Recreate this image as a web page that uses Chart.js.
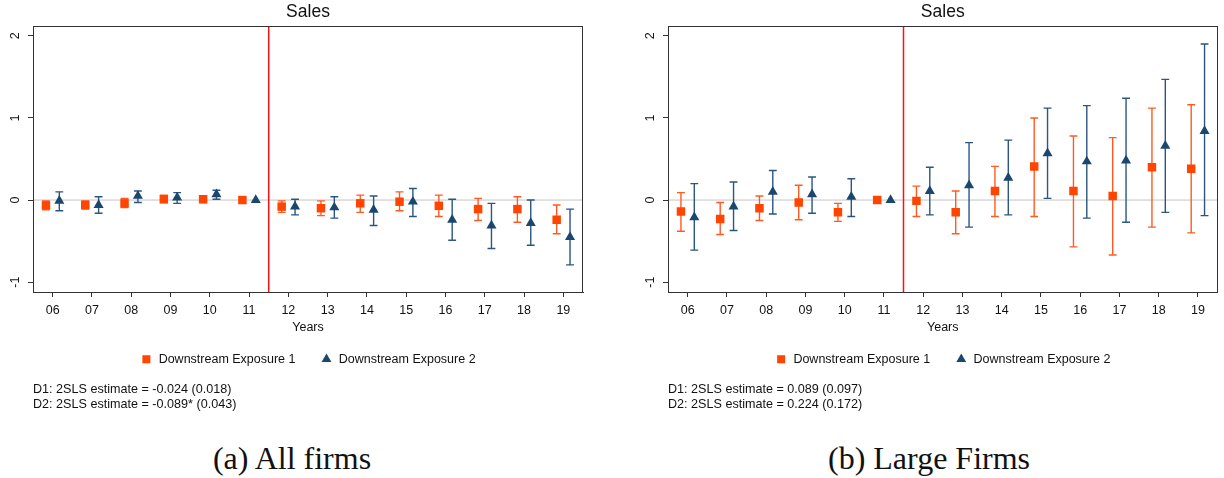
<!DOCTYPE html>
<html>
<head>
<meta charset="utf-8">
<script src="https://cdn.jsdelivr.net/npm/chart.js@4.4.1/dist/chart.umd.min.js"></script>
<style>
  body { margin: 0; width: 1224px; height: 478px; background: #fff; position: relative; overflow: hidden; }
  canvas { position: absolute; top: 0; }
  #chartA { left: 0; }
  #chartB { left: 612px; }
  .caption { position: absolute; top: 442px; transform: translateX(-50%); white-space: nowrap;
             font-family: "Liberation Serif", "Times New Roman", serif; font-size: 32px; line-height: 32px; color: #111; }
</style>
</head>
<body>
<canvas id="chartA" width="612" height="420"></canvas>
<canvas id="chartB" width="612" height="420"></canvas>
<div class="caption" style="left:292px">(a) All firms</div>
<div class="caption" style="left:929px">(b) Large Firms</div>

<script>
// ── Data ──────────────────────────────────────────────────────────────────────
const years = [6, 7, 8, 9, 10, 11, 12, 13, 14, 15, 16, 17, 18, 19];
const yearLabels = ['06', '07', '08', '09', '10', '11', '12', '13', '14', '15', '16', '17', '18', '19'];
const yTickValues = [-1, 0, 1, 2];
const seriesNames = ['Downstream Exposure 1', 'Downstream Exposure 2'];

// (a) All firms  (11 is the reference year: no interval)
const allD1   = [-0.065, -0.06, -0.04, 0.01, 0.01, 0, -0.08, -0.10, -0.04, -0.02, -0.07, -0.11, -0.11, -0.24];
const allD1Lo = [-0.12, -0.11, -0.09, -0.03, -0.03, null, -0.15, -0.19, -0.15, -0.13, -0.20, -0.25, -0.27, -0.41];
const allD1Hi = [-0.01, -0.01, 0.02, 0.06, 0.05, null, -0.01, -0.01, 0.06, 0.10, 0.06, 0.02, 0.04, -0.06];
const allD2   = [-0.01, -0.06, 0.05, 0.03, 0.07, 0, -0.08, -0.09, -0.12, -0.02, -0.24, -0.31, -0.28, -0.45];
const allD2Lo = [-0.13, -0.16, -0.03, -0.04, 0.01, null, -0.18, -0.22, -0.31, -0.20, -0.49, -0.59, -0.55, -0.79];
const allD2Hi = [0.10, 0.04, 0.11, 0.09, 0.12, null, 0.01, 0.04, 0.05, 0.14, 0.01, -0.04, 0.00, -0.11];
const allNotes = ['D1: 2SLS estimate = -0.024 (0.018)', 'D2: 2SLS estimate = -0.089* (0.043)'];

// (b) Large firms
const largeD1   = [-0.14, -0.23, -0.10, -0.03, -0.15, 0, -0.01, -0.15, 0.11, 0.41, 0.11, 0.05, 0.40, 0.38];
const largeD1Lo = [-0.38, -0.42, -0.25, -0.24, -0.26, null, -0.20, -0.41, -0.20, -0.20, -0.57, -0.67, -0.33, -0.40];
const largeD1Hi = [0.09, -0.03, 0.05, 0.18, -0.04, null, 0.17, 0.11, 0.41, 1.00, 0.78, 0.76, 1.12, 1.16];
const largeD2   = [-0.21, -0.08, 0.10, 0.07, 0.04, 0, 0.11, 0.18, 0.27, 0.57, 0.47, 0.48, 0.66, 0.84];
const largeD2Lo = [-0.61, -0.37, -0.17, -0.16, -0.20, null, -0.18, -0.33, -0.18, 0.02, -0.22, -0.27, -0.15, -0.19];
const largeD2Hi = [0.20, 0.22, 0.36, 0.28, 0.26, null, 0.40, 0.70, 0.73, 1.12, 1.15, 1.24, 1.47, 1.90];
const largeNotes = ['D1: 2SLS estimate = 0.089 (0.097)', 'D2: 2SLS estimate = 0.224 (0.172)'];

// ── Look ──────────────────────────────────────────────────────────────────────
const X_MIN = 5.5, X_MAX = 19.5, Y_MIN = -1.12, Y_MAX = 2.12;
const BREAK_YEAR = 11.5;
const SHIFT = 0.17;   // series sit either side of the year tick
const CAP = 0.1;      // half width of the whisker caps, in years

const ORANGE = '#ff4500';
const ORANGE_BAR = '#ff5a22';
const NAVY = '#1a476f';
const NAVY_BAR = '#2a5680';
const AXIS = '#333333';
const TEXT = '#111111';

Chart.defaults.font.family = '"Liberation Sans", Arial, sans-serif';
Chart.defaults.color = TEXT;

function points(values, dx) {
    return years.map((yr, i) => ({ x: yr + dx, y: values[i] }));
}

// one line dataset per series: stem + two caps per year, separated by gaps
function errorBars(lo, hi, dx) {
    const pts = [];
    years.forEach((yr, i) => {
        if (lo[i] == null) return;
        const x = yr + dx;
        pts.push({ x, y: lo[i] }, { x, y: hi[i] }, { x, y: null });
        pts.push({ x: x - CAP, y: hi[i] }, { x: x + CAP, y: hi[i] }, { x, y: null });
        pts.push({ x: x - CAP, y: lo[i] }, { x: x + CAP, y: lo[i] }, { x, y: null });
    });
    return pts;
}

const plotFrame = {
    id: 'plotFrame',
    afterDraw(chart) {
        const { ctx, chartArea: a } = chart;
        ctx.save();
        ctx.strokeStyle = AXIS;
        ctx.lineWidth = 1;
        ctx.strokeRect(Math.round(a.left) + 0.5, Math.round(a.top) + 0.5,
            Math.round(a.right - a.left) - 1, Math.round(a.bottom - a.top));
        ctx.restore();
    }
};

function axisLines() {
    return {
        grid: { display: true, drawOnChartArea: false, drawTicks: true, tickLength: 5, color: AXIS },
        border: { display: true, color: AXIS, width: 1 }
    };
}

function drawPanel(canvasId, d1, d1Lo, d1Hi, d2, d2Lo, d2Hi, notes, padLeft, padRight) {
    return new Chart(document.getElementById(canvasId), {
        type: 'scatter',
        data: {
            datasets: [
                { label: seriesNames[0], data: points(d1, -SHIFT), pointStyle: 'rect', pointRadius: 6,
                  backgroundColor: ORANGE, borderColor: ORANGE, borderWidth: 0, order: 1 },
                { label: seriesNames[1], data: points(d2, SHIFT), pointStyle: 'triangle', pointRadius: 5.8,
                  backgroundColor: NAVY, borderColor: NAVY, borderWidth: 0, order: 2 },
                { label: 'ci1', data: errorBars(d1Lo, d1Hi, -SHIFT), showLine: true, pointRadius: 0,
                  borderColor: ORANGE_BAR, borderWidth: 1.4, order: 3 },
                { label: 'ci2', data: errorBars(d2Lo, d2Hi, SHIFT), showLine: true, pointRadius: 0,
                  borderColor: NAVY_BAR, borderWidth: 1.4, order: 4 },
                { label: 'break', data: [{ x: BREAK_YEAR, y: Y_MIN }, { x: BREAK_YEAR, y: Y_MAX }], showLine: true,
                  pointRadius: 0, borderColor: '#ff1010', borderWidth: 1.5, order: 5 },
                { label: 'zero', data: [{ x: X_MIN, y: 0 }, { x: X_MAX, y: 0 }], showLine: true,
                  pointRadius: 0, borderColor: '#c4c4c4', borderWidth: 1, order: 6 }
            ]
        },
        options: {
            responsive: false,
            animation: false,
            events: [],
            layout: { padding: { left: padLeft, right: padRight, top: 0, bottom: 8.26 } },
            scales: {
                x: {
                    type: 'linear', min: X_MIN, max: X_MAX,
                    afterBuildTicks: s => { s.ticks = years.map(v => ({ value: v })); },
                    afterFit: s => { s.height = 36; },
                    ticks: { autoSkip: false, maxRotation: 0, padding: 6, font: { size: 12.5 },
                             callback: (v, i) => yearLabels[i] },
                    title: { display: true, text: 'Years', font: { size: 12.5 }, padding: { top: 0, bottom: -7.5 } },
                    ...axisLines()
                },
                y: {
                    min: Y_MIN, max: Y_MAX,
                    afterBuildTicks: s => { s.ticks = yTickValues.map(v => ({ value: v })); },
                    afterFit: s => { s.width = 33; },
                    ticks: { minRotation: 90, maxRotation: 90, crossAlign: 'center', padding: 7, font: { size: 12.5 } },
                    ...axisLines()
                }
            },
            plugins: {
                title: { display: true, text: 'Sales', fullSize: false, color: TEXT,
                         font: { size: 17.5, weight: 'normal' }, padding: { top: 2, bottom: 3 } },
                legend: {
                    position: 'bottom', fullSize: false,
                    labels: { usePointStyle: true, boxWidth: 12, boxHeight: 8, padding: 25, color: TEXT,
                              font: { size: 12.5 }, filter: item => seriesNames.includes(item.text) }
                },
                subtitle: { display: true, position: 'bottom', align: 'start', fullSize: false, text: notes,
                            color: TEXT, font: { size: 12.6 }, padding: { top: 6, bottom: 0 } },
                tooltip: { enabled: false }
            }
        },
        plugins: [plotFrame]
    });
}

drawPanel('chartA', allD1, allD1Lo, allD1Hi, allD2, allD2Lo, allD2Hi, allNotes, 0, 29);
drawPanel('chartB', largeD1, largeD1Lo, largeD1Hi, largeD2, largeD2Lo, largeD2Hi, largeNotes, 23, 6.5);
</script>
</body>
</html>
